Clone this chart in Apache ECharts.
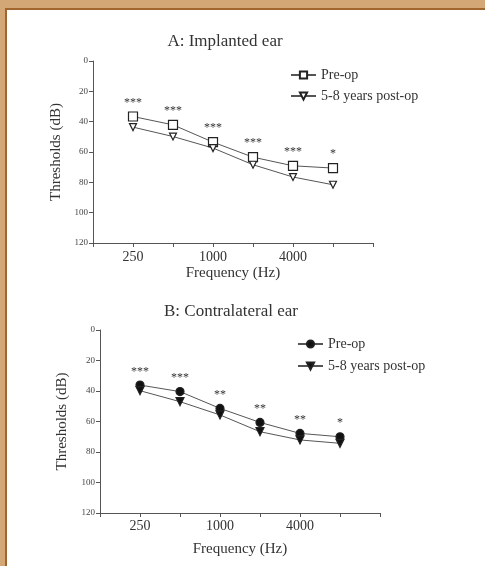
<!DOCTYPE html>
<html>
<head>
<meta charset="utf-8">
<script src="https://cdn.jsdelivr.net/npm/echarts@6/dist/echarts.min.js"></script>
<style>
  html, body { margin: 0; padding: 0; background: #d4a876; }
  #frame { position: absolute; left: 5px; top: 8px; right: 0; bottom: 0;
           border-left: 2px solid #a0662e; border-top: 2px solid #a0662e; background: #fff; }
  #chart { position: absolute; left: 0; top: 0; width: 485px; height: 566px; }
</style>
</head>
<body>
<div id="frame"></div>
<div id="chart"></div>
<script>
// Test frequencies (Hz), placed at positions 1..6 on the x axis
const freqs = [250, 500, 1000, 2000, 4000, 8000];
const labelledFreqs = [250, 1000, 4000];

// Y axis ticks (dB HL)
const yTicks = [0, 20, 40, 60, 80, 100, 120];

// A: implanted ear
const implantedPre = [36.6, 42.1, 53.5, 63.4, 69.1, 70.6];
const implantedPost = [43.6, 49.8, 57.4, 68.4, 76.5, 81.6];
const implantedSig = ['***', '***', '***', '***', '***', '*'];

// B: contralateral ear
const contraPre = [36.1, 40.4, 51.4, 60.6, 67.8, 70.0];
const contraPost = [39.8, 47.0, 55.7, 66.7, 72.1, 74.3];
const contraSig = ['***', '***', '**', '**', '**', '*'];

const seriesNames = ['Pre-op', '5-8 years post-op'];
// zero-width suffix keeps the two panels' legend entries separate
const B_SUFFIX = '\u200b';

const FONT = 'Liberation Serif';
const INK = '#333';
const LINE = '#555';
const TRI_DOWN = 'path://M0,0 L10,0 L5,9 Z';

function pts(values) {
  return values.map((v, i) => [i + 1, v]);
}

function xAxisFor(gridIndex, nameGap, labelMargin) {
  return {
    gridIndex, type: 'value', min: 0, max: 7, interval: 1, position: 'bottom',
    name: 'Frequency (Hz)', nameLocation: 'middle', nameGap,
    nameTextStyle: { fontFamily: FONT, fontSize: 15, color: INK },
    axisLine: { onZero: false, lineStyle: { color: LINE, width: 1 } },
    axisTick: { show: true, length: 4, lineStyle: { color: LINE } },
    splitLine: { show: false },
    axisLabel: {
      fontFamily: FONT, fontSize: 14, color: INK, margin: labelMargin,
      formatter: v => {
        const f = freqs[v - 1];
        return labelledFreqs.includes(f) ? String(f) : '';
      }
    }
  };
}

function yAxisFor(gridIndex, nameGap) {
  return {
    gridIndex, type: 'value', inverse: true,
    min: yTicks[0], max: yTicks[yTicks.length - 1], interval: yTicks[1] - yTicks[0],
    name: 'Thresholds (dB)', nameLocation: 'middle', nameGap,
    nameTextStyle: { fontFamily: FONT, fontSize: 15, color: INK },
    axisLine: { show: true, onZero: false, lineStyle: { color: LINE, width: 1 } },
    axisTick: { show: true, length: 4, lineStyle: { color: LINE } },
    splitLine: { show: false },
    axisLabel: { fontFamily: FONT, fontSize: 9, color: '#444', margin: 5 }
  };
}

function lineSeries(name, values, axisIndex, symbol, size, filled, sig) {
  const s = {
    name, type: 'line', xAxisIndex: axisIndex, yAxisIndex: axisIndex,
    data: pts(values), symbol, symbolSize: size, showAllSymbol: true,
    lineStyle: { color: LINE, width: 1 },
    itemStyle: { color: filled ? '#111' : '#fff', borderColor: '#222', borderWidth: 1.2 },
    emphasis: { disabled: true },
    z: filled ? 3 : 4
  };
  if (sig) {
    s.label = {
      show: true, position: 'top', distance: 3,
      fontFamily: FONT, fontSize: 12, color: INK,
      formatter: p => sig[p.dataIndex]
    };
  }
  return s;
}

const chart = echarts.init(document.getElementById('chart'), null, { renderer: 'canvas' });

const legendText = { fontFamily: FONT, fontSize: 14, color: INK };

chart.setOption({
  animation: false,
  backgroundColor: 'transparent',
  title: [
    { text: 'A: Implanted ear', left: 220, top: 28, textAlign: 'center',
      textStyle: { fontFamily: FONT, fontSize: 17, fontWeight: 'normal', color: INK } },
    { text: 'B: Contralateral ear', left: 226, top: 298, textAlign: 'center',
      textStyle: { fontFamily: FONT, fontSize: 17, fontWeight: 'normal', color: INK } }
  ],
  legend: [
    {
      orient: 'vertical', left: 285, top: 63, itemWidth: 25, itemHeight: 9, itemGap: 7,
      data: seriesNames.slice(), textStyle: legendText, selectedMode: false
    },
    {
      orient: 'vertical', left: 292, top: 332, itemWidth: 25, itemHeight: 9, itemGap: 8,
      data: seriesNames.map(n => n + B_SUFFIX), textStyle: legendText, selectedMode: false
    }
  ],
  grid: [
    { left: 93, top: 61, width: 280, height: 182 },
    { left: 100, top: 330, width: 280, height: 183 }
  ],
  xAxis: [xAxisFor(0, 23, 7), xAxisFor(1, 29, 6)],
  yAxis: [yAxisFor(0, 27), yAxisFor(1, 30)],
  series: [
    lineSeries(seriesNames[0], implantedPre, 0, 'rect', 9, false, implantedSig),
    lineSeries(seriesNames[1], implantedPost, 0, TRI_DOWN, 7, false, null),
    lineSeries(seriesNames[0] + B_SUFFIX, contraPre, 1, 'circle', 8, true, contraSig),
    lineSeries(seriesNames[1] + B_SUFFIX, contraPost, 1, TRI_DOWN, 8, true, null)
  ]
});
</script>
</body>
</html>
